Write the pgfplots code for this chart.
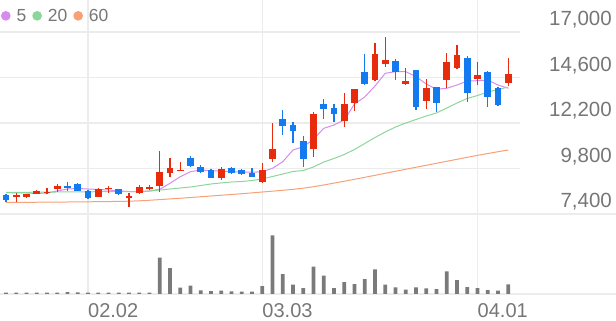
\documentclass[border=0pt]{standalone}
\usepackage{pgfplots}
\pgfplotsset{compat=1.18}
\usepackage{pgfplotstable}
\usepackage{fontspec}
\setmainfont{Liberation Sans}
\definecolor{cred}{RGB}{232,43,12}
\definecolor{cblue}{RGB}{20,122,240}
\definecolor{ma5}{RGB}{214,140,238}
\definecolor{ma20}{RGB}{140,214,155}
\definecolor{ma60}{RGB}{248,160,120}
\definecolor{volgray}{RGB}{122,122,122}
\definecolor{gridgray}{RGB}{236,236,236}
\definecolor{textgray}{RGB}{118,118,118}

\pgfplotstableread{
i o h l c
1 8281 8524 8049 8387
2 8313 8450 8229 8440
3 8440 8640 8429 8614
4 8524 8788 8456 8577
5 8703 8967 8577 8878
9 8313 8756 8281 8719
10 8703 8878 8524 8788
12 8260 8492 7786 8350
13 8492 8930 8470 8841
14 8735 8930 8666 8841
15 8878 10724 8577 9600
16 9547 10339 9368 9843
17 9669 10159 9660 9722
21 9284 9896 9194 9758
25 9104 10075 9052 9722
26 10286 12185 10159 10813
30 10813 12797 10423 12660
33 12322 13767 12005 13187
34 13271 13990 12850 13978
36 14468 16437 14440 15833
37 15296 16756 15156 15523
39 14242 15086 14230 14416
41 13361 14505 12923 14062
43 14468 15886 14031 15434
44 15086 16315 15033 15787
46 14505 15402 14205 14732
49 14295 15613 14163 14769
}\redtab

\pgfplotstableread{
i o h l c
0 8400 8460 8030 8140
6 8878 9104 8630 8809
7 8983 9020 8598 8630
8 8630 8666 8192 8229
11 8703 8735 8403 8440
18 10339 10460 9896 9933
19 9864 9985 9547 9632
20 9722 9758 9284 9316
22 9811 9864 9511 9547
23 9722 9758 9442 9495
24 9547 9843 9337 9368
27 12396 12886 11568 12058
28 12079 12269 11130 11795
29 11267 11515 9896 10286
31 13203 13467 12396 12939
32 13008 13187 12269 12675
35 14907 15833 14205 14258
38 15487 15576 14468 14875
40 14996 15010 12886 13060
42 14084 14090 12797 13271
45 15645 15734 13324 13799
47 14907 14920 13029 13588
48 14031 14115 13113 13150
}\bluetab

\pgfplotstableread{
i ma5 ma20 ma60 v
0 8535 8534 8010 13
1 8508 8540 8013 13
2 8508 8545 8016 13
3 8482 8550 8020 13
4 8508 8555 8024 13
5 8614 8561 8028 13
6 8719 8565 8033 20
7 8746 8570 8038 17
8 8719 8572 8044 13
9 8693 8575 8050 13
10 8666 8577 8057 13
11 8614 8577 8064 13
12 8587 8577 8075 13
13 8577 8580 8095 13
14 8614 8613 8125 13
15 8703 8666 8160 363
16 9020 8719 8195 260
17 9368 8771 8230 63
18 9632 8824 8270 83
19 9722 8903 8310 37
20 9685 8983 8350 30
21 9669 9040 8390 33
22 9632 9088 8430 27
23 9616 9114 8470 23
24 9600 9167 8515 23
25 9632 9246 8560 80
26 9811 9378 8605 587
27 10159 9510 8650 200
28 10776 9642 8700 93
29 10950 9695 8760 60
30 11341 9879 8840 273
31 11921 10143 8930 183
32 12095 10328 9030 60
33 12359 10539 9130 120
34 13203 10802 9230 100
35 13572 11119 9335 150
36 14152 11435 9440 247
37 14822 11725 9547 93
38 14907 11989 9655 67
39 14907 12200 9760 43
40 14643 12385 9865 67
41 14258 12569 9970 57
42 13978 12728 10075 50
43 14031 12991 10180 227
44 14205 13255 10285 140
45 14416 13493 10390 70
46 14431 13651 10495 60
47 14468 13835 10590 40
48 14205 13967 10685 33
49 14031 14099 10776 97
}\matab

\pgfplotsset{
  candle/.style 2 args={only marks, mark=*, mark size=0pt,
    mark options={draw=none, fill=none}, forget plot,
    error bars/.cd, y dir=both, y explicit, error mark=none,
    error bar style={draw=#1, line width=#2}},
}

\begin{document}
\begin{tikzpicture}
\useasboundingbox (0,0) rectangle (616bp,321bp);
% volume panel
\begin{axis}[
  at={(0bp,27bp)}, anchor=south west, scale only axis,
  width=616bp, height=80bp,
  xmin=-0.585, xmax=59.512, ymin=0, ymax=800,
  scaled x ticks=false, scaled y ticks=false,
  axis line style={draw=none}, major tick length=0pt,
  xtick={8,25,46}, xticklabels={02.02,03.03,04.01},
  xmajorgrids, ytick={0,800}, yticklabels={}, ymajorgrids,
  grid style={gridgray, line width=1.2bp},
  xticklabel style={anchor=north west, inner sep=0pt, yshift=-9bp,
    font=\fontsize{20bp}{24bp}\selectfont, text=textgray},
]
\addplot[ybar, bar width=3.6bp, fill=volgray, draw=none] table[x=i, y=v] {\matab};
\end{axis}
% price panel
\begin{axis}[
  at={(0bp,107bp)}, anchor=south west, scale only axis,
  width=520bp, height=214bp,
  xmin=-0.585, xmax=50.146, ymin=7400, ymax=18688,
  scaled x ticks=false, scaled y ticks=false,
  axis line style={draw=none}, major tick length=0pt,
  xtick={8,25,46}, xticklabels={}, xmajorgrids,
  ytick={7400,9800,12200,14600,17000},
  yticklabels={{7,400},{9,800},{12,200},{14,600},{17,000}},
  ymajorgrids, grid style={gridgray, line width=1.2bp},
  yticklabel pos=right,
  yticklabel style={anchor=base east, inner sep=0pt, xshift=92bp, yshift=6bp,
    font=\fontsize{20.5bp}{24bp}\selectfont, text=textgray},
  legend style={at={(axis description cs:0,1)}, anchor=north west,
    draw=none, fill=none, inner sep=0pt, outer sep=0pt, yshift=-7bp, xshift=1bp,
    font=\fontsize{17.5bp}{20bp}\selectfont, text=textgray,
    legend columns=3, column sep=4bp},
  legend image code/.code={\fill[#1] (4.5bp,0bp) circle (4.3bp);},
]
\addplot[color=ma5, line width=1bp] table[x=i, y=ma5] {\matab};
\addlegendentry{5}
\addplot[color=ma20, line width=1bp] table[x=i, y=ma20] {\matab};
\addlegendentry{20}
\addplot[color=ma60, line width=1bp] table[x=i, y=ma60] {\matab};
\addlegendentry{60}
% red candles
\addplot[candle={cred}{1.3bp}]
  table[x=i, y expr={(\thisrow{h}+\thisrow{l})/2}, y error expr={(\thisrow{h}-\thisrow{l})/2}] {\redtab};
\addplot[candle={cred}{6.6bp}]
  table[x=i, y expr={(\thisrow{o}+\thisrow{c})/2}, y error expr={abs(\thisrow{c}-\thisrow{o})/2}] {\redtab};
% blue candles
\addplot[candle={cblue}{1.3bp}]
  table[x=i, y expr={(\thisrow{h}+\thisrow{l})/2}, y error expr={(\thisrow{h}-\thisrow{l})/2}] {\bluetab};
\addplot[candle={cblue}{6.6bp}]
  table[x=i, y expr={(\thisrow{o}+\thisrow{c})/2}, y error expr={abs(\thisrow{c}-\thisrow{o})/2}] {\bluetab};
\end{axis}
\end{tikzpicture}
\end{document}
